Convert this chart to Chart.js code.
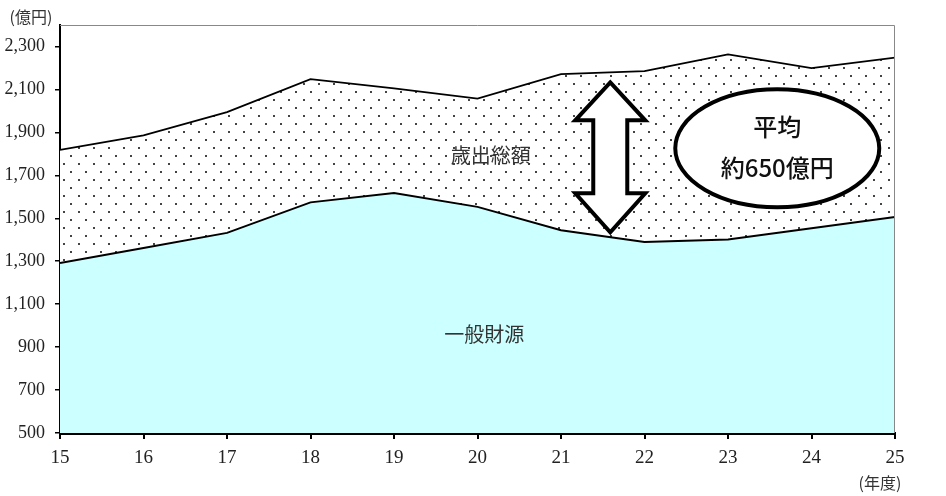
<!DOCTYPE html>
<html>
<head>
<meta charset="utf-8">
<script src="https://cdn.jsdelivr.net/npm/chart.js@4"></script>
<style>
  html, body { margin: 0; padding: 0; background: #fff; }
  #wrap { width: 946px; height: 496px; position: relative; }
</style>
</head>
<body>
<div id="wrap"><canvas id="chart"></canvas></div>
<script>
// データ
const years = [15, 16, 17, 18, 19, 20, 21, 22, 23, 24, 25];
const generalRevenue = [1292, 1362, 1432, 1574, 1618, 1553, 1444, 1390, 1401, 1453, 1506];
const totalExpenditure = [1818, 1886, 1994, 2148, 2105, 2057, 2171, 2185, 2263, 2199, 2248];
const yTicks = [500, 700, 900, 1100, 1300, 1500, 1700, 1900, 2100, 2300];

const serif = '"Liberation Serif", "DejaVu Serif", serif';
const jp = '"Noto Sans CJK JP", "Noto Sans", sans-serif';

// 点描パターン
function makeDots() {
    const c = document.createElement('canvas');
    c.width = 15; c.height = 16;
    const g = c.getContext('2d');
    g.fillStyle = '#fff';
    g.fillRect(0, 0, 15, 16);
    g.fillStyle = '#444';
    g.fillRect(3, 3, 2, 2);
    g.fillRect(10, 11, 2, 2);
    return g.createPattern(c, 'repeat');
}

// 注記(矢印・楕円・文字)
const notes = {
    id: 'notes',
    afterDatasetsDraw(chart) {
        const ctx = chart.ctx;
        const xs = chart.scales.x, ys = chart.scales.y;
        const a = chart.chartArea;

        ctx.save();
        // 枠
        ctx.strokeStyle = '#888';
        ctx.lineWidth = 1;
        ctx.beginPath();
        ctx.moveTo(a.left, a.top + 0.5);
        ctx.lineTo(a.right - 0.5, a.top + 0.5);
        ctx.lineTo(a.right - 0.5, a.bottom);
        ctx.stroke();

        // 両矢印
        const ax = xs.getPixelForValue(21.59);
        const top = ys.getPixelForValue(2133), hb1 = ys.getPixelForValue(1956);
        const hb2 = ys.getPixelForValue(1616), bot = ys.getPixelForValue(1435);
        const hw = 35, sw = 17;
        ctx.beginPath();
        ctx.moveTo(ax, top);
        ctx.lineTo(ax + hw, hb1);
        ctx.lineTo(ax + sw, hb1);
        ctx.lineTo(ax + sw, hb2);
        ctx.lineTo(ax + hw, hb2);
        ctx.lineTo(ax, bot);
        ctx.lineTo(ax - hw, hb2);
        ctx.lineTo(ax - sw, hb2);
        ctx.lineTo(ax - sw, hb1);
        ctx.lineTo(ax - hw, hb1);
        ctx.closePath();
        ctx.fillStyle = '#fff';
        ctx.fill();
        ctx.lineWidth = 4;
        ctx.lineJoin = 'miter';
        ctx.strokeStyle = '#000';
        ctx.stroke();

        // 楕円
        const ex = xs.getPixelForValue(23.59), ey = ys.getPixelForValue(1826);
        ctx.beginPath();
        ctx.ellipse(ex, ey, 102, 59, 0, 0, Math.PI * 2);
        ctx.fillStyle = '#fff';
        ctx.fill();
        ctx.lineWidth = 4;
        ctx.stroke();

        ctx.fillStyle = '#111';
        ctx.textAlign = 'center';
        ctx.textBaseline = 'middle';
        ctx.font = '500 24px ' + jp;
        ctx.fillText('平均', ex, ey - 21);
        ctx.fillText('約650億円', ex, ey + 20);

        ctx.fillStyle = '#333';
        ctx.font = '20px ' + jp;
        ctx.fillText('歳出総額', xs.getPixelForValue(20.16), ys.getPixelForValue(1793));
        ctx.fillText('一般財源', xs.getPixelForValue(20.08), ys.getPixelForValue(960));

        ctx.font = '16px ' + jp;
        ctx.fillText('(億円)', 31, 17);
        ctx.fillText('(年度)', 880, 483);
        ctx.restore();
    }
};

const ctx = document.getElementById('chart').getContext('2d');
new Chart(ctx, {
    type: 'line',
    data: {
        datasets: [
            {
                label: '一般財源',
                data: years.map((y, i) => ({ x: y, y: generalRevenue[i] })),
                borderColor: '#000',
                borderWidth: 2,
                backgroundColor: '#CCFFFF',
                fill: 'start',
                pointRadius: 0,
                tension: 0
            },
            {
                label: '歳出総額',
                data: years.map((y, i) => ({ x: y, y: totalExpenditure[i] })),
                borderColor: '#000',
                borderWidth: 1.8,
                backgroundColor: makeDots(),
                fill: '-1',
                pointRadius: 0,
                tension: 0
            }
        ]
    },
    options: {
        responsive: true,
        maintainAspectRatio: false,
        animation: false,
        layout: { padding: { top: 25, right: 51, left: 0, bottom: 0 } },
        plugins: {
            legend: { display: false },
            tooltip: { enabled: false }
        },
        scales: {
            x: {
                type: 'linear',
                min: 15,
                max: 25,
                afterBuildTicks: s => { s.ticks = years.map(v => ({ value: v })); },
                afterFit: s => { s.height = 63; },
                grid: { drawOnChartArea: false, drawTicks: true, tickLength: 6, color: '#000', lineWidth: 2 },
                border: { display: true, color: '#000', width: 3 },
                ticks: {
                    color: '#222',
                    font: { family: serif, size: 19 },
                    padding: 8,
                    maxRotation: 0
                }
            },
            y: {
                min: 500,
                max: 2400,
                afterBuildTicks: s => { s.ticks = yTicks.map(v => ({ value: v })); },
                afterFit: s => { s.width = 60; },
                grid: { drawOnChartArea: false, drawTicks: true, tickLength: 5, color: '#000', lineWidth: 1.5 },
                border: { display: true, color: '#000', width: 2 },
                ticks: {
                    color: '#222',
                    font: { family: serif, size: 18 },
                    padding: 10,
                    callback: v => v.toLocaleString('en-US')
                }
            }
        }
    },
    plugins: [notes]
});
</script>
</body>
</html>
